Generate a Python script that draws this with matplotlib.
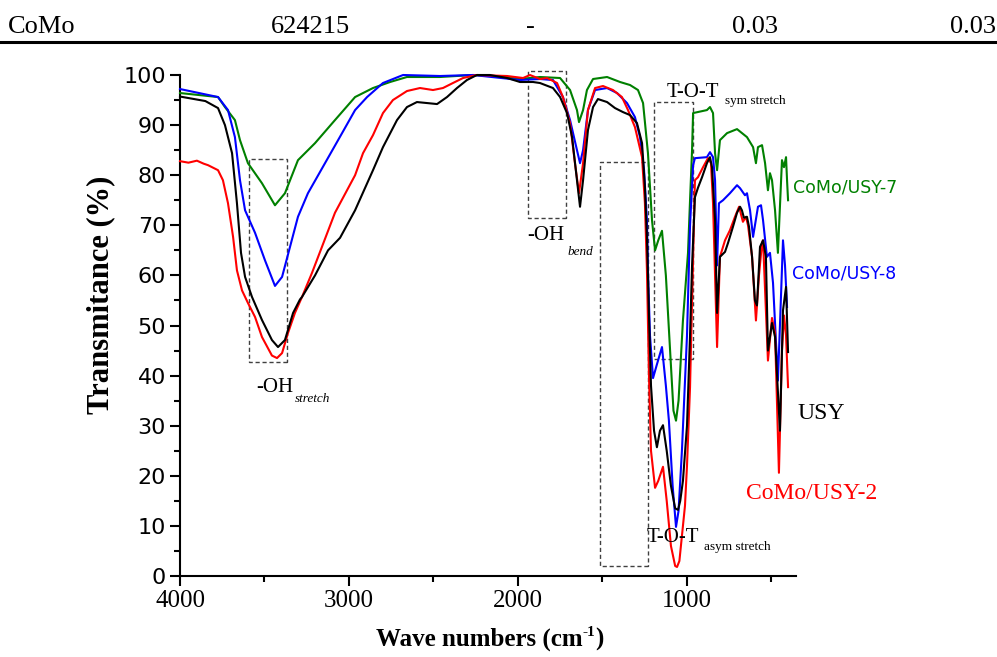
import matplotlib
matplotlib.use("Agg")
import matplotlib.pyplot as plt
from matplotlib.patches import Rectangle
from matplotlib.ticker import MultipleLocator

# ---------------- data ----------------
usy_wn = [4000, 3850, 3775, 3734, 3692, 3663, 3639, 3615, 3574, 3515, 3456, 3420, 3379, 3331,
          3290, 3278, 3201, 3124, 3053, 2964, 2858, 2799, 2716, 2657, 2598, 2538, 2479, 2420,
          2361, 2302, 2243, 2166, 2065, 1988, 1911, 1870, 1793, 1751, 1710, 1680, 1651, 1633,
          1615, 1586, 1556, 1527, 1473, 1426, 1379, 1337, 1296, 1266, 1249, 1237, 1225, 1213,
          1195, 1178, 1160, 1142, 1120, 1095, 1070, 1053, 1040, 1024, 1000, 982, 970, 953, 935,
          911, 882, 864, 852, 834, 822, 805, 775, 757, 728, 704, 686, 675, 663, 645, 633, 615,
          598, 586, 568, 550, 533, 521, 497, 479, 450, 432, 414, 402]
usy_t = [95.7, 94.8, 93.4, 90.0, 84.4, 74.4, 64.5, 59.7, 55.7, 51.1, 47.1, 45.7, 47.1, 52.5,
         55.2, 55.7, 60.0, 65.0, 67.5, 73.0, 81.0, 85.6, 91.0, 93.6, 94.6, 94.4, 94.2, 95.6,
         97.4, 99.0, 100.0, 100.0, 99.4, 98.6, 98.6, 98.4, 97.4, 95.6, 92.4, 87.6, 79.0, 73.7,
         79.0, 89.0, 93.6, 95.2, 94.6, 93.4, 92.6, 92.0, 90.4, 86.4, 77.6, 67.7, 52.0, 38.0,
         29.0, 25.7, 29.0, 30.1, 25.0, 18.0, 13.5, 13.2, 15.0, 19.0, 30.0, 48.0, 62.0, 75.6, 77.5,
         79.6, 82.4, 83.6, 81.6, 71.0, 52.5, 63.7, 64.7, 66.5, 69.7, 72.5, 73.7, 73.0, 71.5, 71.7,
         69.7, 63.7, 55.0, 54.0, 65.7, 67.0, 63.7, 45.0, 50.5, 47.7, 29.0, 53.0, 57.7, 44.7]

usy2_wn = [4000, 3950, 3900, 3860, 3834, 3775, 3746, 3716, 3686, 3663, 3633, 3598, 3556, 3515,
           3456, 3426, 3396, 3361, 3320, 3278, 3219, 3160, 3083, 2964, 2917, 2858, 2799, 2740,
           2657, 2580, 2503, 2444, 2385, 2325, 2243, 2065, 1970, 1929, 1870, 1828, 1769, 1734,
           1692, 1663, 1639, 1615, 1586, 1544, 1497, 1438, 1385, 1349, 1308, 1266, 1249, 1237,
           1225, 1213, 1189, 1170, 1142, 1120, 1095, 1070, 1059, 1045, 1030, 1012, 1000, 982,
           970, 953, 935, 905, 876, 858, 846, 834, 822, 805, 775, 746, 716, 692, 669, 651, 639,
           615, 592, 574, 556, 550, 521, 497, 479, 456, 438, 426, 414, 402]
usy2_t = [82.8, 82.5, 82.9, 82.3, 82.0, 81.0, 79.0, 74.4, 67.7, 61.0, 57.0, 54.5, 51.7, 47.7,
          44.0, 43.5, 44.5, 48.5, 52.5, 55.7, 60.5, 65.7, 72.5, 80.0, 84.4, 88.0, 92.4, 95.0,
          96.8, 97.4, 97.0, 97.4, 98.4, 99.4, 100.0, 99.8, 99.4, 100.0, 99.2, 99.4, 98.4, 95.6,
          90.4, 82.4, 76.4, 82.4, 93.0, 97.4, 97.8, 97.0, 95.6, 93.0, 89.6, 83.6, 74.4, 61.0,
          40.0, 25.0, 17.6, 19.0, 21.8, 15.0, 6.0, 2.0, 1.8, 3.0, 8.0, 14.0, 22.0, 37.7,
          55.0, 79.0, 79.6, 81.6, 83.4, 82.4, 74.4, 60.0, 45.7, 63.7, 67.0, 69.0, 71.7, 73.7, 70.7,
          71.7, 70.0, 63.7, 51.0, 60.0, 66.5, 67.0, 43.0, 51.5, 48.5, 20.6, 45.0, 52.0, 48.0, 37.7]

usy8_wn = [4000, 3775, 3716, 3675, 3645, 3615, 3556, 3497, 3438, 3396, 3349, 3302, 3243, 3142,
           3041, 2964, 2893, 2799, 2680, 2462, 2266, 1988, 1870, 1793, 1734, 1692, 1651, 1633,
           1615, 1586, 1544, 1473, 1414, 1355, 1308, 1278, 1254, 1237, 1231, 1219, 1201, 1180,
           1148, 1125, 1107, 1085, 1065, 1050, 1030, 1000, 982, 964, 953, 882, 864, 846, 834,
           822, 811, 787, 746, 704, 686, 657, 645, 627, 609, 580, 562, 550, 527, 509, 491, 462,
           450, 432, 420, 408]
usy8_t = [97.2, 95.6, 93.0, 87.6, 79.0, 73.0, 68.5, 63.0, 57.9, 59.7, 65.7, 71.7, 76.4, 82.4,
          88.4, 93.0, 95.6, 98.4, 100.0, 99.8, 100.0, 99.0, 99.2, 99.0, 95.6, 91.0, 85.0, 82.4,
          85.0, 93.0, 97.0, 97.4, 96.4, 94.4, 91.6, 87.6, 81.0, 71.0, 61.0, 48.0, 39.5, 42.0,
          45.7, 38.0, 31.0, 18.0, 9.8, 13.0, 25.0, 48.0, 70.0, 82.0, 83.4, 83.6, 84.6, 83.6, 79.0,
          62.0, 74.4, 75.0, 76.4, 78.0, 77.4, 76.0, 76.4, 73.0, 67.7, 73.7, 74.0, 71.0, 63.7,
          64.5, 58.5, 39.0, 50.0, 67.0, 62.0, 53.7]

usy7_wn = [4000, 3775, 3734, 3675, 3645, 3598, 3515, 3438, 3379, 3302, 3201, 3083, 2964, 2858,
           2757, 2657, 2462, 2266, 2065, 1988, 1870, 1751, 1692, 1651, 1639, 1615, 1592, 1556,
           1473, 1396, 1337, 1290, 1260, 1231, 1207, 1189, 1170, 1148, 1125, 1100, 1080, 1065,
           1050, 1024, 994, 982, 970, 964, 882, 864, 846, 834, 822, 805, 763, 704, 645, 609, 592,
           580, 556, 538, 521, 509, 497, 479, 462, 438, 426, 414, 408, 402]
usy7_t = [96.4, 95.6, 93.6, 91.0, 87.0, 82.4, 78.4, 74.0, 76.4, 83.0, 86.4, 91.0, 95.6, 97.4,
          98.6, 99.6, 99.6, 100.0, 99.6, 99.2, 99.6, 99.4, 97.0, 93.0, 90.6, 93.0, 97.0, 99.2,
          99.6, 98.6, 98.0, 97.0, 94.4, 84.4, 71.0, 65.0, 67.0, 68.9, 60.0, 45.0, 33.0, 31.0,
          35.0, 51.0, 64.5, 75.0, 85.0, 92.4, 93.0, 93.6, 92.4, 84.4, 81.0, 87.0, 88.4, 89.2, 87.6,
          85.6, 82.4, 85.6, 86.0, 82.4, 77.0, 80.4, 79.0, 73.0, 64.5, 83.0, 81.6, 83.6, 79.0, 75.0]

series_names = ["USY", "CoMo/USY-2", "CoMo/USY-8", "CoMo/USY-7"]
x_ticks = [4000, 3000, 2000, 1000]
y_ticks = [0, 10, 20, 30, 40, 50, 60, 70, 80, 90, 100]
table_row = ["CoMo", "624215", "-", "0.03", "0.03"]

# ---------------- figure ----------------
W, H = 997, 657
fig = plt.figure(figsize=(W / 100, H / 100), dpi=100)
renderer = fig.canvas.get_renderer()

def fx(px):
    return px / W

def fy(py):
    return 1 - py / H

ax = fig.add_axes([fx(180), fy(576), (796 - 180) / W, (576 - 75) / H])

serif = "Liberation Serif"
sans = "DejaVu Sans"

lw = 1.5
ax.plot(usy7_wn, usy7_t, color="#008000", lw=lw, clip_on=False, zorder=3)
ax.plot(usy8_wn, usy8_t, color="#0000ff", lw=lw, clip_on=False, zorder=4)
ax.plot(usy2_wn, usy2_t, color="#ff0000", lw=lw, clip_on=False, zorder=5)
ax.plot(usy_wn, usy_t, color="black", lw=lw, clip_on=False, zorder=6)

ax.set_xlim(4000, 355)
ax.set_ylim(0, 100)
ax.set_xticks(x_ticks)
ax.set_xticklabels([str(v) for v in x_ticks], family=serif, fontsize=18)
ax.set_yticks(y_ticks)
ax.set_yticklabels([str(v) for v in y_ticks], family=sans, fontsize=16)
ax.xaxis.set_minor_locator(MultipleLocator(500))
ax.yaxis.set_minor_locator(MultipleLocator(5))
ax.tick_params(which="major", direction="out", length=7, width=1.5, pad=3)
ax.tick_params(which="minor", direction="out", length=4, width=1.5)
for s in ["top", "right"]:
    ax.spines[s].set_visible(False)
for s in ["left", "bottom"]:
    ax.spines[s].set_linewidth(1.5)

# x axis title composed of pieces: "Wave numbers (cm" + superscript "-1" + ")"
xl_kw = dict(family=serif, fontweight="bold", va="baseline", ha="left")
base_y = 646
p1 = fig.text(0, fy(base_y), "Wave numbers (cm", fontsize=18, **xl_kw)
p2 = fig.text(0, fy(base_y - 10), "-1", fontsize=11, **xl_kw)
p3 = fig.text(0, fy(base_y), ")", fontsize=18, **xl_kw)
w1 = p1.get_window_extent(renderer).width
w2 = p2.get_window_extent(renderer).width
w3 = p3.get_window_extent(renderer).width
x0 = 490 - (w1 + w2 + w3) / 2
p1.set_x(fx(x0))
p2.set_x(fx(x0 + w1))
p3.set_x(fx(x0 + w1 + w2))

fig.text(fx(101), fy(295), "Transmitance (%)", family=serif, fontweight="bold",
         fontsize=22, ha="center", va="center", rotation=90)

# dashed annotation boxes (data coords)
box_kw = dict(fill=False, ec="0.25", lw=1.0, ls=(0, (3, 2)), zorder=2, clip_on=False)
ax.add_patch(Rectangle((3367, 42.7), 3592 - 3367, 83.2 - 42.7, **box_kw))
ax.add_patch(Rectangle((1716, 71.5), 1941 - 1716, 100.8 - 71.5, **box_kw))
ax.add_patch(Rectangle((964, 43.3), 1195 - 964, 94.6 - 43.3, **box_kw))
ax.add_patch(Rectangle((1231, 2.0), 1515 - 1231, 82.6 - 2.0, **box_kw))

# annotation texts (pixel positions)
def t(px, py, s, **kw):
    fig.text(fx(px), fy(py), s, va="baseline", ha="left", **kw)

t(256, 392, "-OH", family=serif, fontsize=15)
t(295, 402, "stretch", family=serif, fontsize=9.5, style="italic")
t(527, 240, "-OH", family=serif, fontsize=15)
t(567, 255, "bend", family=serif, fontsize=9.5, style="italic")
t(667, 97, "T-O-T", family=serif, fontsize=15)
t(725, 104, "sym stretch", family=serif, fontsize=9.5)
t(647, 542, "T-O-T", family=serif, fontsize=15)
t(704, 550, "asym stretch", family=serif, fontsize=9.5)

t(793, 192, series_names[3], family=sans, fontsize=12.5, color="#008000")
t(792, 278, series_names[2], family=sans, fontsize=12.5, color="#0000ff")
t(797, 419, series_names[0], family=serif, fontsize=17, color="black")
t(746, 499, series_names[1], family=serif, fontsize=17, color="#ff0000")

# table row fragment at the top
fig.text(fx(8), fy(33), table_row[0], family=serif, fontsize=19, ha="left", va="baseline")
fig.text(fx(310), fy(33), table_row[1], family=serif, fontsize=19, ha="center", va="baseline")
fig.text(fx(530), fy(33), table_row[2], family=serif, fontsize=19, ha="center", va="baseline")
fig.text(fx(755), fy(33), table_row[3], family=serif, fontsize=19, ha="center", va="baseline")
fig.text(fx(996), fy(33), table_row[4], family=serif, fontsize=19, ha="right", va="baseline")
fig.add_artist(plt.Line2D([0, 1], [fy(42), fy(42)], color="black", lw=2.2, transform=fig.transFigure))

fig.savefig("out.png", dpi=100)
